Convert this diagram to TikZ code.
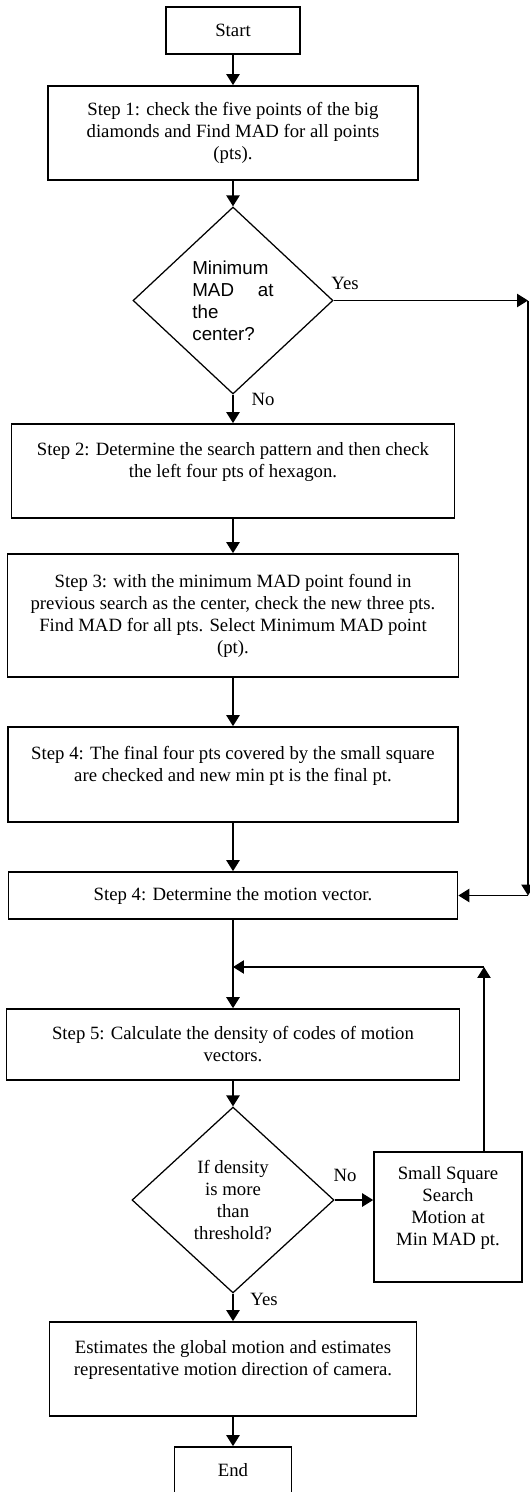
\documentclass[tikz,border=0pt]{standalone}
\usepackage{fontspec}
\setmainfont{Liberation Serif}
\newfontfamily\arialfont{Liberation Sans}
\usetikzlibrary{shapes.geometric, arrows.meta}

\begin{document}
\begin{tikzpicture}[x=0.64pt, y=-0.64pt, font=\fontsize{12}{14.1}\selectfont]
    \tikzstyle{block} = [rectangle, draw, line width=1.1pt, align=center, inner sep=2pt]
    \tikzstyle{decision} = [diamond, draw, line width=0.8pt, inner sep=1pt, align=center]
    \tikzstyle{line} = [draw, -{Triangle[length=7pt, width=8.5pt]}, line width=0.9pt]
    \useasboundingbox (0,0) rectangle (530,1492);

    % Nodes
    \node [block, minimum width=85.8pt, minimum height=30.1pt] (start) at (233,30.5) {Start};
    \node [block, minimum width=236.8pt, minimum height=60.2pt] (s1) at (233,133) {Step 1: check the five points of the big\\ diamonds and Find MAD for all points\\ (pts).};
    \node [decision, minimum width=128pt, minimum height=119.7pt, font=\arialfont\fontsize{12}{14.1}\selectfont] (d1) at (233,300.5) {\parbox{52pt}{Minimum\\ MAD\hfill at\\ the\\ center?}};
    \node [block, minimum width=283.5pt, minimum height=60.2pt] (s2) at (233,471) {Step 2: Determine the search pattern and then check\\ the left four pts of hexagon.\\ \mbox{}};
    \node [block, minimum width=288.6pt, minimum height=78.7pt] (s3) at (233,615.5) {Step 3: with the minimum MAD point found in\\ previous search as the center, check the new three pts.\\ Find MAD for all pts. Select Minimum MAD point\\ (pt).};
    \node [block, minimum width=288pt, minimum height=60.8pt] (s4) at (233,774.5) {Step 4: The final four pts covered by the small square\\ are checked and new min pt is the final pt.\\ \mbox{}};
    \node [block, minimum width=287.4pt, minimum height=30.1pt] (mv) at (233,895.5) {Step 4: Determine the motion vector.};
    \node [block, minimum width=290pt, minimum height=45.4pt] (s5) at (233,1044.5) {Step 5: Calculate the density of codes of motion\\ vectors.};
    \node [decision, minimum width=129.3pt, minimum height=119pt] (d2) at (233,1200) {If density\\ is more\\ than\\ threshold?};
    \node [block, minimum width=94.7pt, minimum height=83.2pt] (small) at (448,1217) {Small Square\\ Search\\ Motion at\\ Min MAD pt.\\ \mbox{}};
    \node [block, minimum width=234.9pt, minimum height=60.2pt] (final) at (233,1369) {Estimates the global motion and estimates\\ representative motion direction of camera.\\ \mbox{}};
    \node [block, minimum width=74.9pt, minimum height=30.1pt] (end) at (233,1470.5) {End};

    % Labels
    \node (yes1) at (345,283) {Yes};
    \node (no1) at (263,399) {No};
    \node (no2) at (345,1175) {No};
    \node (yes2) at (264,1299) {Yes};

    % Bends
    \coordinate (c1) at (528,300.5);
    \coordinate (c2) at (528,895.5);
    \coordinate (c3) at (484,967);

    % Connections
    \path [line] (start) -- (s1);
    \path [line] (s1) -- (d1);
    \path [line] (d1) -- (s2);
    \path [line] (s2) -- (s3);
    \path [line] (s3) -- (s4);
    \path [line] (s4) -- (mv);
    \path [line] (mv) -- (s5);
    \path [line] (s5) -- (d2);
    \path [line] (d2) -- (final);
    \path [line] (final) -- (end);
    \path [line] (d1) -- (c1);
    \path [line] (c1) -- (c2);
    \path [line] (c2) -- (mv);
    \path [line] (d2.east) -- (d2.east -| small.west);
    \path [line] (small.north -| c3) -- (c3);
    \path [line] (c3) -- (c3 -| mv);
\end{tikzpicture}
\end{document}
